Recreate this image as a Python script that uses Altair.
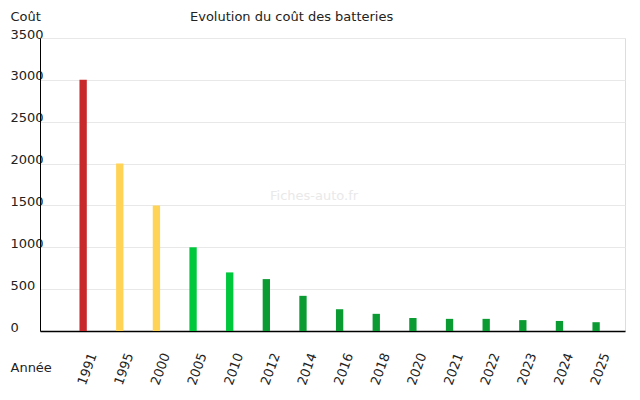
import altair as alt
import pandas as pd

annees = ["1991", "1995", "2000", "2005", "2010", "2012", "2014", "2016",
          "2018", "2020", "2021", "2022", "2023", "2024", "2025"]
couts = [3000, 2000, 1500, 1000, 700, 620, 420, 260, 205, 155, 145, 145, 130, 120, 105]
paliers = ["p1", "p2", "p2", "p3", "p3", "p4", "p4", "p4", "p4", "p4", "p4", "p4", "p4", "p4", "p4"]

palier_domain = ["p1", "p2", "p3", "p4"]
palier_colors = ["#c8282a", "#ffd456", "#00c83c", "#0a9b33"]

df = pd.DataFrame({"annee": annees, "cout": couts, "palier": paliers})

FONT = "DejaVu Sans"

bars = alt.Chart(df).mark_bar().encode(
    x=alt.X("annee:N", sort=annees,
            scale=alt.Scale(paddingInner=0.8, paddingOuter=0.883, align=0.61),
            axis=alt.Axis(title="Année", titleAngle=0, titleX=-30, titleY=40,
                          titleAlign="left", titleBaseline="alphabetic",
                          titleFontWeight="normal", titleFontSize=13, titleFont=FONT,
                          titleColor="#222",
                          labelAngle=290, labelAlign="right", labelBaseline="middle",
                          labelPadding=22, labelOffset=10, labelFontSize=13,
                          labelFont=FONT, labelColor="#222", labelOverlap=False,
                          ticks=False, domainColor="#000", domainWidth=1.5,
                          grid=False)),
    y=alt.Y("cout:Q",
            scale=alt.Scale(domain=[0, 3500], nice=False),
            axis=alt.Axis(title="Coût", titleAngle=0, titleX=-30, titleY=-18,
                          titleAlign="left", titleBaseline="alphabetic",
                          titleFontWeight="normal", titleFontSize=13, titleFont=FONT,
                          titleColor="#222", format="d",
                          values=[0, 500, 1000, 1500, 2000, 2500, 3000, 3500],
                          labelAlign="left", labelBaseline="alphabetic",
                          labelPadding=30, labelFontSize=13, labelFont=FONT,
                          labelColor="#222", ticks=False, tickSize=0,
                          domainColor="#000", domainWidth=1,
                          grid=True, gridColor="#e8e8e8", gridWidth=1)),
    color=alt.Color("palier:N",
                    scale=alt.Scale(domain=palier_domain, range=palier_colors),
                    legend=None),
)

anno = pd.DataFrame({"t": [0]})

watermark = alt.Chart(anno).mark_text(
    align="left", baseline="alphabetic", fontSize=13, font=FONT, color="#e9e9e9"
).encode(x=alt.value(230), y=alt.value(162), text=alt.value("Fiches-auto.fr"))

title = alt.Chart(anno).mark_text(
    align="left", baseline="alphabetic", fontSize=13, font=FONT, color="#222"
).encode(x=alt.value(150), y=alt.value(-17),
         text=alt.value("Evolution du coût des batteries"))

chart = alt.layer(watermark, bars, title).properties(
    width=585, height=293,
    autosize=alt.AutoSizeParams(type="none"),
    padding={"left": 32, "top": 30, "right": 7, "bottom": 62},
).configure_view(stroke=None).configure(background="white")

chart.save("out.html", embed_options={"renderer": "svg", "actions": False})
